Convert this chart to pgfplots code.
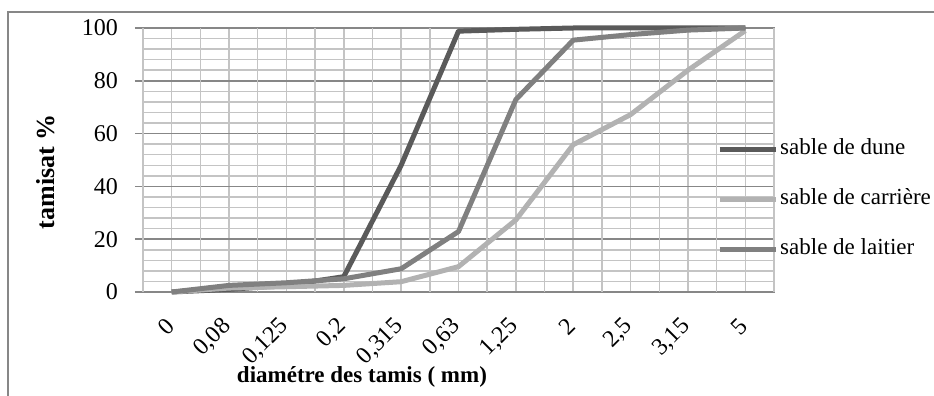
\documentclass[border=0pt]{standalone}
\usepackage{fontspec}
\setmainfont{Liberation Serif}
\usepackage{pgfplots}
\pgfplotsset{compat=1.18}
\definecolor{cdune}{HTML}{5A5A5A}
\definecolor{ccarr}{HTML}{B2B2B2}
\definecolor{clait}{HTML}{808080}
\definecolor{gmaj}{HTML}{878787}
\definecolor{gmin}{HTML}{C4C4C4}
\begin{document}
\begin{tikzpicture}
\path[use as bounding box] (-143pt,-104pt) rectangle (791pt,292pt);
\draw[line width=1.5pt, color=gmaj] (-135pt,-104pt) -- (-135pt,280pt) -- (791pt,280pt);
\begin{axis}[
  scale only axis, width=631pt, height=264pt,
  xmin=-0.5, xmax=10.5, ymin=0, ymax=100,
  /pgf/number format/assume math mode=true,
  axis line style={gmaj, line width=1.5pt},
  tick pos=left, tick align=outside,
  xtick={0,...,10},
  xticklabels={0,{0,08},{0,125},{0,2},{0,315},{0,63},{1,25},2,{2,5},{3,15},5},
  x tick label style={rotate=45, anchor=east, inner sep=0pt, xshift=-17pt, yshift=-15pt},
  xtick style={draw=none},
  xmajorgrids, x grid style={gmin, line width=1.5pt},
  extra x ticks={-0.5,0.5,...,10.5},
  extra x tick labels={},
  extra x tick style={grid=major, major grid style={gmaj, line width=1.5pt}, tick style={gmaj, line width=1.5pt, draw=gmaj}, major tick length=8pt},
  ytick={0,20,...,100}, minor y tick num=4,
  ymajorgrids, yminorgrids,
  y grid style={line width=1.5pt},
  major y grid style={gmaj, line width=1.5pt},
  minor y grid style={gmin, line width=1.5pt},
  ytick style={gmaj, line width=1.5pt},
  major tick length=8pt, minor tick length=0pt,
  y tick label style={inner sep=0pt, xshift=-17pt},
  tick label style={font=\fontsize{24}{24}\selectfont},
  xlabel={\textbf{diamétre des tamis ( mm)}},
  ylabel={\textbf{tamisat \%}},
  xlabel style={font=\fontsize{23}{23}\selectfont, at={(axis description cs:0.347,-0.32)}, anchor=center},
  ylabel style={font=\fontsize{26}{26}\selectfont, at={(axis description cs:-0.155,0.455)}, anchor=center, rotate=0},
  legend style={draw=none, fill=none, inner sep=0pt, at={(axis description cs:0.9097,0.585)}, anchor=north west,
     font=\fontsize{23}{23}\selectfont, row sep=27pt, column sep=2pt,
     nodes={inner sep=0pt, text height=17pt, text depth=6pt}},
  legend cell align=left,
  legend image code/.code={\draw[#1] (0pt,0pt) -- (56pt,0pt);},
  every axis plot/.append style={line width=5pt, line join=round},
  clip=false,
]
\addplot[cdune] coordinates {(0,0) (1,1) (2,2.5) (3,5.8) (4,48) (5,98.8) (6,99.5) (7,100) (8,100) (9,100) (10,100)};
\addplot[ccarr] coordinates {(0,0) (1,1.5) (2,2) (3,2.5) (4,3.9) (5,9.6) (6,27.3) (7,55.8) (8,67.2) (9,84) (10,99)};
\addplot[clait] coordinates {(0,0) (1,2.5) (2,3.5) (3,5) (4,8.8) (5,22.9) (6,72.9) (7,95.4) (8,97.5) (9,99.2) (10,100)};
\legend{sable de dune, sable de carrière, sable de laitier}
\end{axis}
\end{tikzpicture}
\end{document}
